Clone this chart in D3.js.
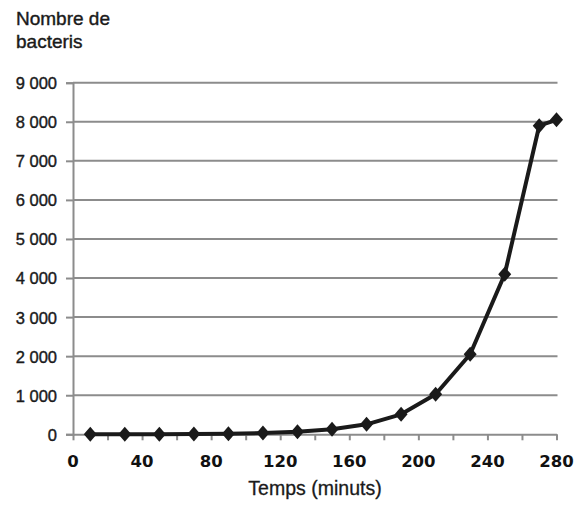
<!DOCTYPE html>
<html><head><meta charset="utf-8">
<script src="https://cdn.jsdelivr.net/npm/d3@7"></script>
<style>body{margin:0;background:#fff}</style>
</head><body>
<script>
const times = [10,30,50,70,90,110,130,150,170,190,210,230,250,270,280];
const bacteria = [1,2,4,8,16,32,64,128,256,512,1024,2048,4096,7900,8050];
const yTicks = [0,1000,2000,3000,4000,5000,6000,7000,8000,9000];
const xLabelTicks = [0,40,80,120,160,200,240,280];
const xMinorTicks = d3.range(0,281,20);

const W=582,H=506;
const svg=d3.select("body").append("svg").attr("width",W).attr("height",H);
const x=d3.scaleLinear().domain([0,280]).range([73,556.5]);
const y=d3.scaleLinear().domain([0,9000]).range([434.3,82.7]);
const fmt=v=>v===0?"0":d3.format(",")(v).replace(/,/g," ");
const grid="#8c8c8c";
const ink="#1a1a1a";

// gridlines
svg.append("g").selectAll("line").data(yTicks.filter(d=>d>0)).join("line")
 .attr("x1",x(0)).attr("x2",x(280)+1).attr("y1",d=>y(d)).attr("y2",d=>y(d))
 .attr("stroke",grid).attr("stroke-width",2);

// y axis
const ya=svg.append("g").attr("transform",`translate(${x(0)},0)`)
 .call(d3.axisLeft(y).tickValues(yTicks).tickSize(7).tickPadding(9).tickFormat(fmt));
ya.select(".domain").attr("stroke",grid).attr("stroke-width",2);
ya.selectAll(".tick line").attr("stroke",grid).attr("stroke-width",2);
ya.selectAll("text").attr("font-family","Liberation Sans, Arial, sans-serif")
 .attr("font-size",16.5).attr("fill",ink).attr("stroke",ink).attr("stroke-width",0.4)
 .attr("dy","0.36em");

// x axis
const xa=svg.append("g").attr("transform",`translate(0,${y(0)})`)
 .call(d3.axisBottom(x).tickValues(xMinorTicks).tickSize(6).tickSizeOuter(0).tickFormat(""));
xa.select(".domain").attr("stroke",grid).attr("stroke-width",2);
xa.selectAll(".tick line").attr("stroke",grid).attr("stroke-width",2);
svg.append("g").selectAll("text").data(xLabelTicks).join("text")
 .attr("x",d=>x(d)).attr("y",466.5).attr("text-anchor","middle")
 .attr("font-family","DejaVu Sans, sans-serif").attr("font-weight","bold")
 .attr("font-size",16.5).attr("fill","#111").text(d=>d);

// line
svg.append("path").datum(times.map((t,i)=>[t,bacteria[i]]))
 .attr("d",d3.line().x(d=>x(d[0])).y(d=>y(d[1])))
 .attr("fill","none").attr("stroke",ink).attr("stroke-width",4).attr("stroke-linejoin","round");

// markers
svg.append("g").selectAll("path").data(times.map((t,i)=>[t,bacteria[i]])).join("path")
 .attr("transform",d=>`translate(${x(d[0])},${y(d[1])})`)
 .attr("d","M0,-7.5L6.5,0L0,7.5L-6.5,0Z").attr("fill",ink);

// titles
const tt=svg.append("text").attr("font-family","Liberation Sans, Arial, sans-serif")
 .attr("font-size",19).attr("fill",ink).attr("stroke",ink).attr("stroke-width",0.4);
tt.append("tspan").attr("x",16).attr("y",25).text("Nombre de");
tt.append("tspan").attr("x",16).attr("y",47.5).text("bacteris");
svg.append("text").attr("x",315).attr("y",495).attr("text-anchor","middle")
 .attr("font-family","Liberation Sans, Arial, sans-serif").attr("font-size",19.5)
 .attr("fill",ink).attr("stroke",ink).attr("stroke-width",0.3).text("Temps (minuts)");
</script>
</body></html>
